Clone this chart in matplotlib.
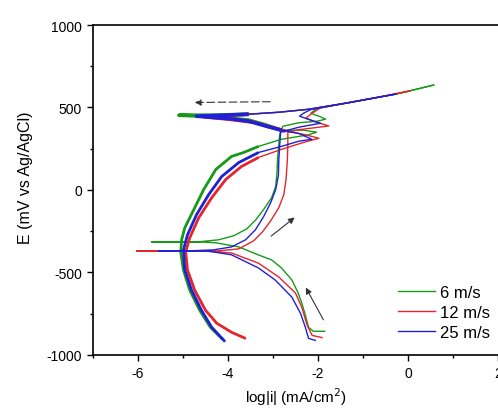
import matplotlib
matplotlib.use("Agg")
import matplotlib.pyplot as plt
from matplotlib.ticker import MultipleLocator

plt.rcParams['font.family'] = ['Liberation Sans', 'DejaVu Sans']
plt.rcParams['axes.unicode_minus'] = False

# --- data: log|i| (mA/cm2) and E (mV vs Ag/AgCl) ---
labels = ['6 m/s', '12 m/s', '25 m/s']
colors = ['#179a17', '#e3262b', '#2020d6']

# 6 m/s, forward scan (cathodic end -> Ecorr -> passive -> pitting)
g_fwd_x = [-1.85, -2.10, -2.21, -2.28, -2.36, -2.45, -2.58, -2.81, -3.03, -3.32, -3.76, -4.27, -4.65,
           -5.70, -4.65, -4.21, -3.87, -3.58, -3.38, -3.21, -3.03, -2.94, -2.91, -2.90, -2.87, -2.85,
           -2.78, -2.43, -2.03, -1.83, -1.98, -2.16, -2.03, -1.32, -0.27, 0.05, 0.57]
g_fwd_e = [-858, -858, -834, -761, -687, -620, -547, -474, -425, -395, -346, -321, -315,
           -315, -315, -303, -278, -236, -181, -120, -47, 20, 106, 184, 276, 337,
           386, 407, 416, 429, 447, 465, 493, 529, 581, 601, 636]
# 6 m/s, reverse scan
g_rev_x = [0.57, -0.27, -1.32, -2.21, -2.87, -3.54, -4.32, -5.09, -4.54, -3.98, -3.54, -3.21, -2.81,
           -2.32, -2.03, -2.21, -2.81, -3.32, -3.65, -3.92, -4.27, -4.54, -4.76, -4.96, -5.03, -5.05,
           -4.99, -4.85, -4.63, -4.39, -4.12]
g_rev_e = [636, 581, 529, 489, 471, 459, 453, 453, 447, 435, 423, 398, 362,
           362, 350, 334, 307, 264, 227, 203, 124, 2, -120, -230, -303, -376,
           -486, -608, -730, -834, -907]

# 12 m/s
r_fwd_x = [-1.91, -2.13, -2.24, -2.36, -2.50, -2.87, -3.32, -3.92, -4.43, -4.76, -6.03, -4.76, -4.21,
           -3.76, -3.43, -3.23, -3.05, -2.87, -2.76, -2.71, -2.68, -2.67, -2.67, -2.43, -1.98, -1.76,
           -2.03, -2.27, -2.16, -1.94, -1.32, -0.65, 0.04]
r_fwd_e = [-896, -883, -822, -712, -626, -529, -445, -383, -373, -370, -370, -370, -370,
           -358, -309, -254, -187, -108, -29, 63, 185, 276, 350, 365, 380, 388,
           410, 435, 459, 499, 529, 563, 600]
r_rev_x = [0.04, -0.65, -1.32, -2.21, -2.87, -3.54, -4.54, -3.98, -3.43, -3.05, -2.72, -2.32, -1.98,
           -2.32, -2.81, -3.32, -3.70, -4.05, -4.36, -4.65, -4.85, -4.94, -4.90, -4.74, -4.50, -4.25,
           -3.92, -3.61]
r_rev_e = [600, 563, 529, 489, 471, 459, 444, 429, 410, 380, 356, 337, 313,
           288, 246, 197, 142, 63, -47, -169, -291, -376, -486, -608, -730, -809,
           -864, -901]

# 25 m/s
b_fwd_x = [-2.06, -2.21, -2.28, -2.39, -2.58, -2.95, -3.32, -3.92, -4.43, -4.87, -5.54, -4.87, -4.32,
           -3.92, -3.61, -3.39, -3.21, -3.05, -2.94, -2.88, -2.87, -2.85, -2.83, -2.43, -2.07, -1.94,
           -2.16, -2.41, -2.32, -2.16, -1.32, -0.27]
b_fwd_e = [-913, -901, -834, -748, -651, -547, -474, -394, -372, -370, -370, -370, -364,
           -346, -303, -242, -163, -77, 2, 87, 185, 276, 350, 380, 398, 404,
           423, 447, 465, 487, 529, 581]
b_rev_x = [-0.27, -1.32, -2.21, -2.87, -3.54, -4.70, -3.98, -3.54, -3.14, -2.81, -2.43, -2.14, -2.43,
           -2.81, -3.32, -3.76, -4.14, -4.43, -4.70, -4.90, -4.99, -4.96, -4.81, -4.59, -4.36, -4.07]
b_rev_e = [581, 529, 489, 471, 459, 447, 432, 417, 386, 362, 343, 307, 295,
           264, 227, 166, 81, -29, -151, -273, -364, -486, -608, -730, -834, -919]

# (start/end of the noisy band at top, start of the noisy column) in the reverse arrays
noisy = [(5, 13, 17), (5, 11, 15), (4, 10, 14)]

fig = plt.figure(figsize=(4.98, 4.10), dpi=100)
ax = fig.add_axes([0.1867, 0.1324, 0.8133, 0.8041])

curves = [(g_fwd_x, g_fwd_e, g_rev_x, g_rev_e),
          (r_fwd_x, r_fwd_e, r_rev_x, r_rev_e),
          (b_fwd_x, b_fwd_e, b_rev_x, b_rev_e)]

for (fx, fe, rx, re), c, lab, (b0, b1, c0) in zip(curves, colors, labels, noisy):
    ax.plot(fx, fe, color=c, lw=1.0, label=lab)
    ax.plot(rx, re, color=c, lw=1.0)
    # the noisy parts look like thick smudges in the original
    ax.plot(rx[b0:b1], re[b0:b1], color=c, lw=2.6, solid_capstyle='butt')
    ax.plot(rx[c0:], re[c0:], color=c, lw=2.0, solid_capstyle='butt')

# scan direction arrows
arrow_kw = dict(arrowstyle='-|>', color='0.2', lw=0.8, mutation_scale=9)
ax.annotate('', xy=(-4.8, 530), xytext=(-3.0, 535),
            arrowprops=dict(arrow_kw, linestyle=(0, (7, 3))))
ax.annotate('', xy=(-2.47, -157), xytext=(-3.09, -291), arrowprops=arrow_kw)
ax.annotate('', xy=(-2.30, -578), xytext=(-1.85, -803), arrowprops=arrow_kw)

ax.set_xlim(-7, 2)
ax.set_ylim(-1000, 1000)
ax.xaxis.set_major_locator(MultipleLocator(2))
ax.xaxis.set_minor_locator(MultipleLocator(1))
ax.yaxis.set_major_locator(MultipleLocator(500))
ax.yaxis.set_minor_locator(MultipleLocator(250))
ax.tick_params(which='major', direction='out', length=4.5, width=1.0, labelsize=10)
ax.tick_params(which='minor', direction='out', length=2.5, width=1.0)
ax.spines['right'].set_visible(False)
for s in ['left', 'bottom', 'top']:
    ax.spines[s].set_linewidth(1.2)

ax.set_xlabel('log|i| (mA/cm$^2$)', fontsize=11)
ax.set_ylabel('E (mV vs Ag/AgCl)', fontsize=11.5)
ax.xaxis.set_label_coords(0.5, -0.093)
ax.yaxis.set_label_coords(-0.148, 0.54)

ax.legend(loc='center left', bbox_to_anchor=(0.753, 0.128), frameon=False,
          fontsize=12, handlelength=2.2, handletextpad=0.35, labelspacing=0.3,
          borderpad=0, borderaxespad=0)

fig.savefig('out.png', dpi=100, facecolor='white')
